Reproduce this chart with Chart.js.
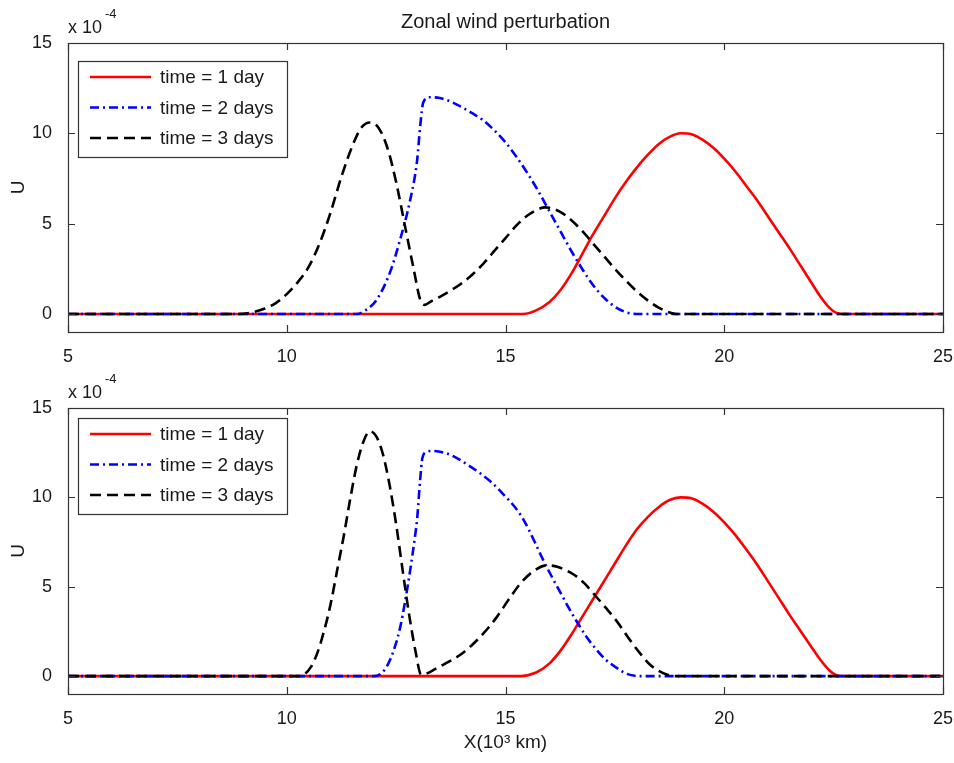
<!DOCTYPE html>
<html>
<head>
<meta charset="utf-8">
<script src="https://cdn.jsdelivr.net/npm/chart.js"></script>
<style>
  html, body { margin: 0; padding: 0; background: #fff; }
  #wrap { position: relative; width: 954px; height: 763px; }
  canvas { position: absolute; left: 0; }
</style>
</head>
<body>
<div id="wrap">
  <canvas id="topChart" width="954" height="370" style="top:0"></canvas>
  <canvas id="bottomChart" width="954" height="393" style="top:370px"></canvas>
</div>
<script>
// --- data (U in units of 1e-4, X in 10^3 km) ---
const chartTitle = 'Zonal wind perturbation';
const seriesLabels = ['time = 1 day', 'time = 2 days', 'time = 3 days'];
const xTicks = [5, 10, 15, 20, 25];
const yTicks = [0, 5, 10, 15];

// upper panel
const topDay1X = [5, 15.4, 15.7, 16.0, 16.25, 16.5, 16.75, 17.0, 17.25, 17.5, 17.75, 18.0, 18.25, 18.5, 18.75, 19.0, 19.25, 19.5, 19.75, 20.0, 20.25, 20.5, 20.75, 21.0, 21.25, 21.5, 21.75, 22.0, 22.2, 22.4, 22.55, 22.7, 25];
const topDay1U = [0, 0, 0.2, 0.65, 1.3, 2.2, 3.3, 4.4, 5.4, 6.4, 7.3, 8.1, 8.8, 9.4, 9.8, 10.0, 9.95, 9.65, 9.2, 8.6, 7.9, 7.1, 6.3, 5.4, 4.5, 3.6, 2.65, 1.7, 0.95, 0.35, 0.07, 0, 0];
const topDay2X = [5, 11.6, 11.8, 12.06, 12.36, 12.59, 12.82, 12.98, 13.05, 13.12, 13.27, 13.5, 13.75, 14.0, 14.25, 14.5, 14.75, 15.0, 15.25, 15.5, 15.75, 16.0, 16.25, 16.5, 16.75, 17.0, 17.25, 17.5, 17.75, 18.0, 25];
const topDay2U = [0, 0, 0.2, 0.8, 2.3, 4.1, 6.3, 8.5, 10.4, 11.7, 12.0, 11.95, 11.75, 11.45, 11.1, 10.7, 10.15, 9.5, 8.7, 7.8, 6.8, 5.7, 4.6, 3.5, 2.5, 1.6, 0.9, 0.4, 0.1, 0, 0];
const topDay3X = [5, 8.9, 9.2, 9.5, 9.75, 10.0, 10.25, 10.5, 10.75, 11.0, 11.25, 11.5, 11.7, 11.9, 12.1, 12.3, 12.5, 12.7, 12.9, 13.05, 13.15, 13.3, 13.5, 13.75, 14.0, 14.25, 14.5, 14.75, 15.0, 15.25, 15.5, 15.75, 15.9, 16.0, 16.25, 16.5, 16.75, 17.0, 17.25, 17.5, 17.75, 18.0, 18.25, 18.5, 18.75, 18.9, 25];
const topDay3U = [0, 0, 0.08, 0.3, 0.6, 1.1, 1.75, 2.6, 3.9, 5.6, 7.6, 9.3, 10.3, 10.6, 10.3, 9.2, 7.3, 4.9, 2.5, 0.8, 0.5, 0.7, 0.95, 1.3, 1.7, 2.2, 2.8, 3.5, 4.2, 4.9, 5.45, 5.8, 5.9, 5.88, 5.65, 5.2, 4.6, 3.9, 3.2, 2.5, 1.85, 1.25, 0.75, 0.35, 0.08, 0, 0];

// lower panel
const botDay1X = [5, 15.35, 15.7, 16.0, 16.25, 16.5, 16.75, 17.0, 17.25, 17.5, 17.75, 18.0, 18.25, 18.5, 18.75, 19.0, 19.25, 19.5, 19.75, 20.0, 20.25, 20.5, 20.75, 21.0, 21.25, 21.5, 21.75, 22.0, 22.2, 22.4, 22.55, 22.7, 25];
const botDay1U = [0, 0, 0.2, 0.7, 1.4, 2.3, 3.3, 4.3, 5.3, 6.3, 7.3, 8.2, 8.9, 9.45, 9.85, 10.0, 9.95, 9.65, 9.2, 8.6, 7.9, 7.1, 6.25, 5.3, 4.35, 3.4, 2.5, 1.6, 0.9, 0.33, 0.06, 0, 0];
const botDay2X = [5, 12.0, 12.13, 12.25, 12.36, 12.48, 12.59, 12.7, 12.82, 12.92, 12.98, 13.05, 13.1, 13.2, 13.34, 13.6, 13.89, 14.15, 14.42, 14.7, 14.94, 15.2, 15.4, 15.65, 15.86, 16.05, 16.25, 16.45, 16.63, 16.85, 17.09, 17.3, 17.55, 17.75, 17.95, 18.05, 25];
const botDay2U = [0, 0, 0.1, 0.4, 0.9, 1.7, 2.7, 4.1, 5.9, 7.6, 8.8, 11.0, 12.2, 12.55, 12.6, 12.5, 12.2, 11.8, 11.35, 10.8, 10.2, 9.5, 8.8, 7.6, 6.5, 5.6, 4.7, 3.8, 3.05, 2.2, 1.45, 0.9, 0.45, 0.15, 0.02, 0, 0];
const botDay3X = [5, 10.25, 10.4, 10.55, 10.7, 10.85, 11.0, 11.15, 11.3, 11.45, 11.6, 11.75, 11.9, 12.05, 12.2, 12.35, 12.5, 12.65, 12.8, 12.95, 13.07, 13.2, 13.4, 13.66, 14.0, 14.26, 14.5, 14.8, 15.05, 15.33, 15.6, 15.95, 16.2, 16.55, 16.8, 17.0, 17.3, 17.55, 17.85, 18.1, 18.3, 18.5, 18.7, 18.85, 25];
const botDay3U = [0, 0, 0.1, 0.5, 1.3, 2.5, 4.0, 5.9, 7.8, 9.9, 11.8, 13.1, 13.7, 13.4, 12.4, 10.7, 8.5, 5.9, 3.4, 1.3, 0.1, 0.15, 0.4, 0.75, 1.25, 1.8, 2.4, 3.3, 4.2, 5.15, 5.8, 6.2, 6.1, 5.7, 5.2, 4.65, 3.8, 3.05, 2.0, 1.2, 0.65, 0.3, 0.08, 0, 0];

const FONT = '"Liberation Sans", Arial, Helvetica, sans-serif';
const INK = '#1a1a1a';

const styles = [
  { color: '#ff0000', dash: [], width: 2.6 },
  { color: '#0000ff', dash: [9, 4, 2, 4], width: 2.6 },
  { color: '#000000', dash: [11, 6], width: 2.6 }
];

function pts(xs, us) {
  return xs.map((x, i) => ({ x: x, y: us[i] }));
}

function makeDatasets(groups) {
  return groups.map((g, i) => ({
    label: seriesLabels[i],
    data: pts(g[0], g[1]),
    borderColor: styles[i].color,
    borderDash: styles[i].dash,
    borderWidth: styles[i].width,
    pointRadius: 0,
    fill: false,
    cubicInterpolationMode: 'monotone',
    order: 3 - i
  }));
}

// MATLAB style frame, inward ticks, exponent label, legend and title
const matlabFrame = {
  id: 'matlabFrame',
  afterDatasetsDraw(chart, args, opts) {
    const ctx = chart.ctx;
    const a = chart.chartArea;
    const xs = chart.scales.x, ys = chart.scales.y;
    ctx.save();
    ctx.strokeStyle = '#333';
    ctx.lineWidth = 1.2;
    ctx.setLineDash([]);
    ctx.strokeRect(a.left + 0.5, a.top + 0.5, a.right - a.left, a.bottom - a.top);
    const tl = 7;
    ctx.beginPath();
    xTicks.forEach(v => {
      const px = Math.round(xs.getPixelForValue(v)) + 0.5;
      ctx.moveTo(px, a.bottom); ctx.lineTo(px, a.bottom - tl);
      ctx.moveTo(px, a.top); ctx.lineTo(px, a.top + tl);
    });
    yTicks.forEach(v => {
      const py = Math.round(ys.getPixelForValue(v)) + 0.5;
      ctx.moveTo(a.left, py); ctx.lineTo(a.left + tl, py);
      ctx.moveTo(a.right, py); ctx.lineTo(a.right - tl, py);
    });
    ctx.stroke();

    // x 10^-4 multiplier
    ctx.fillStyle = INK;
    ctx.textAlign = 'left';
    ctx.textBaseline = 'alphabetic';
    ctx.font = '18px ' + FONT;
    ctx.fillText('x 10', a.left, a.top - 10);
    ctx.font = '13px ' + FONT;
    ctx.fillText('-4', a.left + 37, a.top - 25);

    // legend
    const lx = a.left + 10, ly = a.top + opts.legendTop;
    const lw = 209, lh = 96;
    ctx.fillStyle = '#fff';
    ctx.fillRect(lx, ly, lw, lh);
    ctx.strokeStyle = '#333';
    ctx.lineWidth = 1.2;
    ctx.strokeRect(lx + 0.5, ly + 0.5, lw, lh);
    chart.data.datasets.forEach((ds, i) => {
      const cy = ly + 16 + i * 30.5;
      ctx.strokeStyle = ds.borderColor;
      ctx.lineWidth = ds.borderWidth;
      ctx.setLineDash(ds.borderDash);
      ctx.beginPath();
      ctx.moveTo(lx + 12, cy);
      ctx.lineTo(lx + 73, cy);
      ctx.stroke();
      ctx.setLineDash([]);
      ctx.fillStyle = INK;
      ctx.font = '19px ' + FONT;
      ctx.textBaseline = 'middle';
      ctx.fillText(ds.label, lx + 82, cy + 1);
    });

    if (opts.title) {
      ctx.fillStyle = INK;
      ctx.font = '20px ' + FONT;
      ctx.textAlign = 'center';
      ctx.textBaseline = 'middle';
      ctx.fillText(opts.title, (a.left + a.right) / 2, 22);
    }
    ctx.restore();
  }
};

function makeChart(id, groups, cfg) {
  return new Chart(document.getElementById(id), {
    type: 'line',
    data: { datasets: makeDatasets(groups) },
    plugins: [matlabFrame],
    options: {
      responsive: false,
      animation: false,
      layout: { padding: { top: cfg.padTop, right: 11, left: 0, bottom: 0 } },
      plugins: {
        legend: { display: false },
        tooltip: { enabled: false },
        title: { display: false },
        matlabFrame: { title: cfg.title, legendTop: cfg.legendTop }
      },
      scales: {
        x: {
          type: 'linear',
          min: 5, max: 25,
          grid: { display: false },
          border: { display: false },
          afterBuildTicks: s => { s.ticks = xTicks.map(v => ({ value: v })); },
          afterFit: s => { s.height = cfg.xHeight; s.paddingLeft = 0; s.paddingRight = 0; },
          ticks: { color: INK, font: { family: FONT, size: 18 }, padding: 6, maxRotation: 0 },
          title: cfg.xTitle ? {
            display: true, text: cfg.xTitle, color: INK,
            font: { family: FONT, size: 19 }, padding: { top: 0, bottom: 9 }
          } : { display: false }
        },
        y: {
          type: 'linear',
          min: -1, max: 15,
          grid: { display: false },
          border: { display: false },
          afterBuildTicks: s => { s.ticks = yTicks.map(v => ({ value: v })); },
          afterFit: s => { s.width = 68; s.paddingTop = 0; s.paddingBottom = 0; },
          ticks: { color: INK, font: { family: FONT, size: 18 }, padding: 8 },
          title: {
            display: true, text: 'U', color: INK,
            font: { family: FONT, size: 19 }, padding: { top: 7, bottom: 0 }
          }
        }
      }
    }
  });
}

makeChart('topChart',
  [[topDay1X, topDay1U], [topDay2X, topDay2U], [topDay3X, topDay3U]],
  { padTop: 43, xHeight: 38, title: chartTitle, legendTop: 18 });

makeChart('bottomChart',
  [[botDay1X, botDay1U], [botDay2X, botDay2U], [botDay3X, botDay3U]],
  { padTop: 38, xHeight: 69, xTitle: 'X(10³ km)', legendTop: 10 });
</script>
</body>
</html>
